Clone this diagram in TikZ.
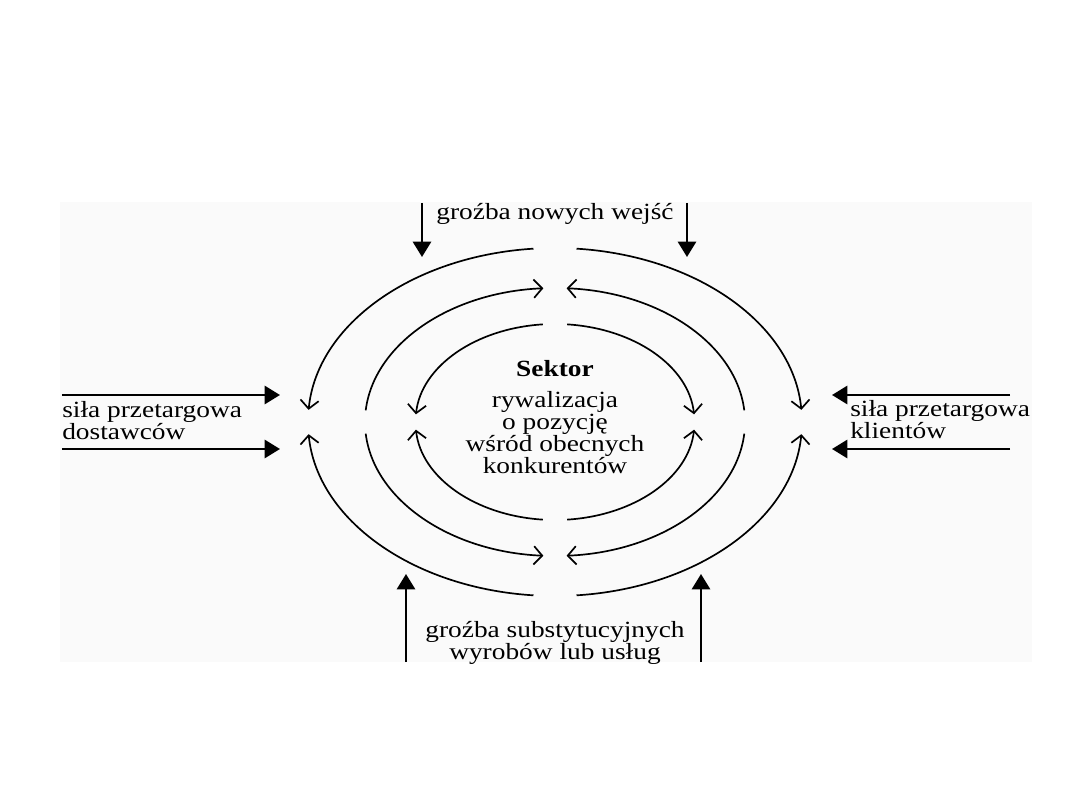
\documentclass[tikz,border=0pt]{standalone}
\usepackage{fontspec}
\setmainfont{Liberation Serif}[FakeStretch=1.18]
\usetikzlibrary{arrows.meta}
\setlength{\lineskiplimit}{-30pt}

\begin{document}
\begin{tikzpicture}[x=0.025cm,y=0.025cm,
  every node/.style={font=\fontsize{16.5pt}{15.6pt}\selectfont,inner sep=0pt},
  flow/.style={line width=1.2pt,-{Straight Barb[length=6pt,width=13pt]}},
  force/.style={line width=1.8pt,-{Triangle[length=11pt,width=13pt]}}]
 \useasboundingbox (-555,422) rectangle (525,-388);
 % faint backdrop
 \fill[black!2] (-495,220) rectangle (477,-240);
 % outer ring, tips at the sides
 \draw[flow] (95:247 and 174) arc[start angle=95,end angle=176,x radius=247,y radius=174];
 \draw[flow] (265:247 and 174) arc[start angle=265,end angle=184,x radius=247,y radius=174];
 \draw[flow] (85:247 and 174) arc[start angle=85,end angle=4,x radius=247,y radius=174];
 \draw[flow] (275:247 and 174) arc[start angle=275,end angle=356,x radius=247,y radius=174];
 % middle ring, tips at top and bottom
 \draw[flow] (175:190 and 134) arc[start angle=175,end angle=93.5,x radius=190,y radius=134];
 \draw[flow] (5:190 and 134) arc[start angle=5,end angle=86.5,x radius=190,y radius=134];
 \draw[flow] (185:190 and 134) arc[start angle=185,end angle=266.5,x radius=190,y radius=134];
 \draw[flow] (355:190 and 134) arc[start angle=355,end angle=273.5,x radius=190,y radius=134];
 % inner ring, tips at the sides
 \draw[flow] (95:139.5 and 98) arc[start angle=95,end angle=175.5,x radius=139.5,y radius=98];
 \draw[flow] (265:139.5 and 98) arc[start angle=265,end angle=184.5,x radius=139.5,y radius=98];
 \draw[flow] (85:139.5 and 98) arc[start angle=85,end angle=4.5,x radius=139.5,y radius=98];
 \draw[flow] (275:139.5 and 98) arc[start angle=275,end angle=355.5,x radius=139.5,y radius=98];
 % sector
 \node (sector) at (0,5) [align=center]
   {\textbf{Sektor}\\[6pt]rywalizacja\\o pozycję\\wśród obecnych\\konkurentów};
 % new entrants
 \node (entry) at (0,202) [anchor=base] {groźba nowych wejść};
 \coordinate (e1) at (-133,219); \coordinate (e1t) at (-133,165);
 \coordinate (e2) at (132,219);  \coordinate (e2t) at (132,165);
 \draw[force] (e1) -- (e1t);
 \draw[force] (e2) -- (e2t);
 % substitutes
 \node (subst) at (0,-221) [align=center] {groźba substytucyjnych\\wyrobów lub usług};
 \coordinate (s1) at (-149,-240); \coordinate (s1t) at (-149,-152);
 \coordinate (s2) at (146,-240);  \coordinate (s2t) at (146,-152);
 \draw[force] (s1) -- (s1t);
 \draw[force] (s2) -- (s2t);
 % suppliers
 \node (supp) at (-493,1.5) [anchor=west,align=left] {siła przetargowa\\dostawców};
 \coordinate (p1) at (-493,27);  \coordinate (p1t) at (-275,27);
 \coordinate (p2) at (-493,-27); \coordinate (p2t) at (-275,-27);
 \draw[force] (p1) -- (p1t);
 \draw[force] (p2) -- (p2t);
 % buyers
 \node (buy) at (295,2.5) [anchor=west,align=left] {siła przetargowa\\klientów};
 \coordinate (b1) at (455,27);  \coordinate (b1t) at (277,27);
 \coordinate (b2) at (455,-27); \coordinate (b2t) at (277,-27);
 \draw[force] (b1) -- (b1t);
 \draw[force] (b2) -- (b2t);
\end{tikzpicture}
\end{document}
